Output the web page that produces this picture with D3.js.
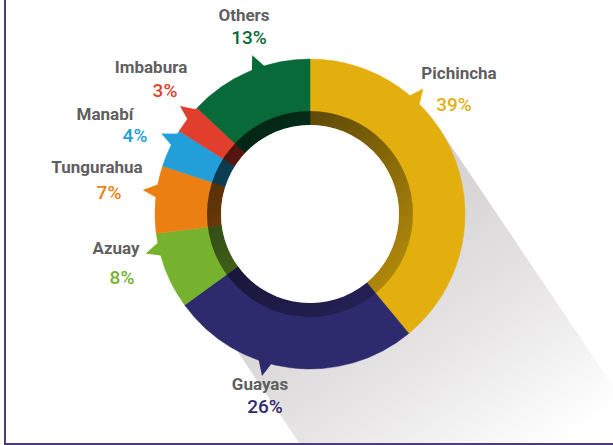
<!DOCTYPE html>
<head>
  <meta charset="utf-8">
  <title>Share by province</title>
  <script src="https://d3js.org/d3.v7.min.js"></script>
  <style>
    body { margin: 0; background: #ffffff; }
  </style>
</head>

<body>
  <script>
    // data
    var provinces = ["Pichincha", "Guayas", "Azuay", "Tungurahua", "Manabí", "Imbabura", "Others"];
    var shares = [39, 26, 8, 7, 4, 3, 13];
    var pctLabels = ["39%", "26%", "8%", "7%", "4%", "3%", "13%"];
    var sliceColors = ["#e3af0e", "#2e2a6e", "#77b22f", "#eb7f12", "#229fd8", "#e23e2e", "#086939"];

    var W = 613, H = 445;
    var cx = 310, cy = 214;
    var rOuter = 155, rRing = 103, rHole = 89;

    // where each label sits, and the angle (deg) of the little pointer
    var labelLayout = {
      "Pichincha":  { tip: 42.6,  name: [459, 79],  pct: [454, 111] },
      "Guayas":     { tip: 197,   name: [260, 390], pct: [265, 413] },
      "Azuay":      { tip: 257,   name: [116, 254], pct: [122, 284] },
      "Tungurahua": { tip: 278.7, name: [97, 173],  pct: [109, 199] },
      "Manabí":     { tip: 298.9, name: [105, 120], pct: [135, 142] },
      "Imbabura":   { tip: 312.5, name: [151, 73],  pct: [165, 97] },
      "Others":     { tip: 340.5, name: [244, 21],  pct: [249, 44] }
    };

    var rows = provinces.map(function(p, i) {
      return { name: p, value: shares[i], pct: pctLabels[i], color: sliceColors[i] };
    });

    var svg = d3.select("body").append("svg")
      .attr("width", W)
      .attr("height", H);

    var defs = svg.append("defs");

    // long shadow
    var shAng = 56 * Math.PI / 180;
    var dir = [Math.cos(shAng), Math.sin(shAng)];
    var perp = [dir[1], -dir[0]];
    var shadowGrad = defs.append("linearGradient")
      .attr("id", "shadowGrad")
      .attr("gradientUnits", "userSpaceOnUse")
      .attr("x1", cx).attr("y1", cy)
      .attr("x2", cx + dir[0] * 330).attr("y2", cy + dir[1] * 330);
    shadowGrad.append("stop").attr("offset", 0).attr("stop-color", "#cfcdcd");
    shadowGrad.append("stop").attr("offset", 0.55).attr("stop-color", "#e6e4e4");
    shadowGrad.append("stop").attr("offset", 1).attr("stop-color", "#ffffff");

    var L = 500;
    var shadowPts = [
      [cx + perp[0] * rOuter, cy + perp[1] * rOuter],
      [cx + perp[0] * rOuter + dir[0] * L, cy + perp[1] * rOuter + dir[1] * L],
      [cx - perp[0] * 137 + dir[0] * L, cy - perp[1] * 137 + dir[1] * L],
      [cx - perp[0] * 137, cy - perp[1] * 137]
    ];
    svg.append("path")
      .attr("d", "M" + shadowPts.join("L") + "Z")
      .attr("fill", "url(#shadowGrad)");

    // ring darkening gradient
    var ringGrad = defs.append("linearGradient")
      .attr("id", "ringGrad")
      .attr("x1", "0.1").attr("y1", "0.1")
      .attr("x2", "0.9").attr("y2", "0.9");
    ringGrad.append("stop").attr("offset", 0).attr("stop-color", "#000").attr("stop-opacity", 0.68);
    ringGrad.append("stop").attr("offset", 1).attr("stop-color", "#000").attr("stop-opacity", 0.2);

    var pie = d3.pie().sort(null).value(function(d) { return d.value; });
    var arcs = pie(rows);

    var arcOuter = d3.arc().innerRadius(rHole).outerRadius(rOuter);

    var g = svg.append("g").attr("transform", "translate(" + cx + "," + cy + ")");

    // pointers
    var deg = Math.PI / 180;
    g.selectAll("path.tip")
      .data(arcs)
      .enter().append("path")
      .attr("class", "tip")
      .attr("fill", function(d) { return d.data.color; })
      .attr("d", function(d) {
        var a = labelLayout[d.data.name].tip * deg;
        a = Math.max(d.startAngle + 3 * deg, Math.min(d.endAngle - 3 * deg, a));
        var p1 = d3.pointRadial(a - 3 * deg, rOuter - 3);
        var p2 = d3.pointRadial(a + 3 * deg, rOuter - 3);
        var tip = d3.pointRadial(a - 0.5 * deg, rOuter + 14);
        return "M" + [p1, tip, p2].join("L") + "Z";
      });

    g.selectAll("path.slice")
      .data(arcs)
      .enter().append("path")
      .attr("class", "slice")
      .attr("d", arcOuter)
      .attr("fill", function(d) { return d.data.color; })
      .attr("stroke", function(d) { return d.data.color; })
      .attr("stroke-width", 0.5);

    g.append("path")
      .attr("d", d3.arc().innerRadius(rHole).outerRadius(rRing).startAngle(0).endAngle(2 * Math.PI)())
      .attr("fill", "url(#ringGrad)");

    g.append("circle").attr("r", rHole).attr("fill", "#ffffff");

    // labels
    var lab = svg.append("g");
    lab.selectAll("text.name")
      .data(rows)
      .enter().append("text")
      .attr("class", "name")
      .attr("x", function(d) { return labelLayout[d.name].name[0]; })
      .attr("y", function(d) { return labelLayout[d.name].name[1]; })
      .attr("text-anchor", "middle")
      .attr("font-family", "Roboto, 'Noto Sans', sans-serif")
      .attr("font-weight", "bold")
      .attr("font-size", 17)
      .attr("fill", "#5f5f5f")
      .text(function(d) { return d.name; });

    lab.selectAll("text.pct")
      .data(rows)
      .enter().append("text")
      .attr("class", "pct")
      .attr("x", function(d) { return labelLayout[d.name].pct[0]; })
      .attr("y", function(d) { return labelLayout[d.name].pct[1]; })
      .attr("text-anchor", "middle")
      .attr("font-family", "Roboto, 'Noto Sans', sans-serif")
      .attr("font-weight", 500)
      .attr("font-size", 19)
      .attr("fill", function(d) { return d.color; })
      .text(function(d) { return d.pct; });

    // frame
    svg.append("line").attr("x1", 5).attr("y1", 0).attr("x2", 5).attr("y2", 445)
      .attr("stroke", "#4d3d7a").attr("stroke-width", 2);
    svg.append("line").attr("x1", 4).attr("y1", 444).attr("x2", 613).attr("y2", 444)
      .attr("stroke", "#4d3d7a").attr("stroke-width", 2);
  </script>
</body>
